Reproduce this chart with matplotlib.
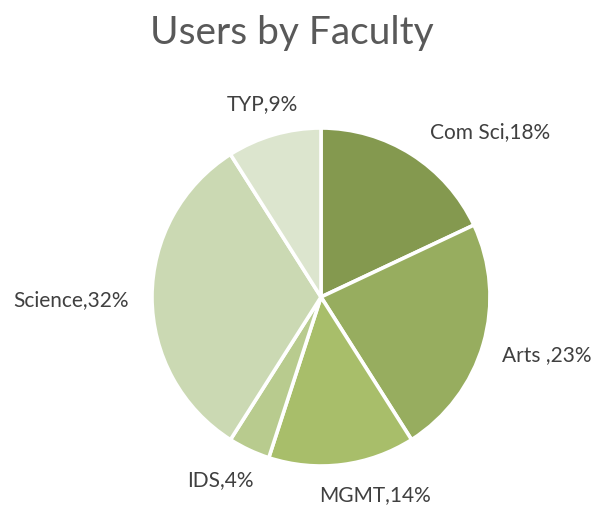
import matplotlib
matplotlib.use("Agg")
import matplotlib.pyplot as plt

# data
faculties = ['Com Sci', 'Arts ', 'MGMT', 'IDS', 'Science', 'TYP']
shares = [18, 23, 14, 4, 32, 9]
colors = ['#84994F', '#97AD5F', '#A8BE6A', '#B8CB8E', '#CBD9B3', '#DCE5CE']

# label centres in pixel coords (from top-left)
label_pos = [(490, 132), (547, 355), (375, 495), (220, 480), (71, 300), (262, 104)]

plt.rcParams['font.family'] = ['Lato', 'DejaVu Sans']

W, H = 597, 507
fig = plt.figure(figsize=(W / 100, H / 100), dpi=100)
ax = fig.add_axes([0, 0, 1, 1])

ax.pie(shares, colors=colors, startangle=90, counterclock=False,
       center=(321, H - 297), radius=169, frame=True,
       wedgeprops=dict(edgecolor='white', linewidth=2.6))
ax.set_xlim(0, W)
ax.set_ylim(0, H)
ax.set_aspect('auto')
ax.axis('off')

for name, val, (x, y) in zip(faculties, shares, label_pos):
    ax.text(x, H - y, '{},{}%'.format(name, val), ha='center', va='center',
            fontsize=15, color='#404040')

ax.text(292, H - 33, 'Users by Faculty', ha='center', va='center',
        fontsize=28, color='#595959')

fig.savefig('out.png', dpi=100)
